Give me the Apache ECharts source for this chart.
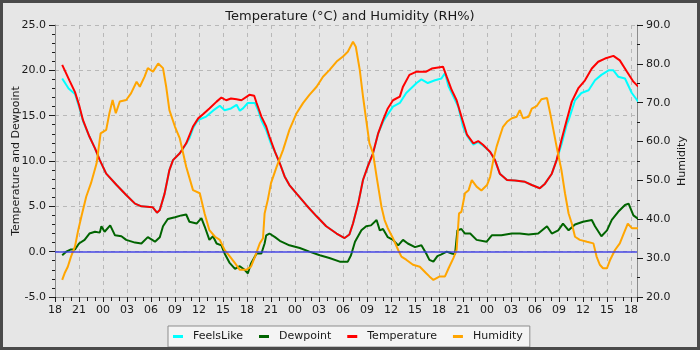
<!DOCTYPE html>
<html>
<head>
<meta charset="utf-8">
<script src="https://cdn.jsdelivr.net/npm/echarts@6/dist/echarts.min.js"></script>
<style>
  html, body { margin: 0; padding: 0; background: #e6e6e6; }
  #chart { width: 700px; height: 350px; }
</style>
</head>
<body>
<div id="chart"></div>
<script>
// Time is given in hours since 18:00 on the first day of the record.
const startHour = 18;
const hourMin = 0;
const hourMax = 72.75;

// [hours, °C]
const temperature = [
  [0.9,20.6],[1.8,18.9],[2.5,17.6],[3.0,16.2],[3.5,14.5],[4.3,12.7],[5.0,11.4],[5.6,10.1],
  [6.4,8.6],[7.7,7.35],[8.9,6.25],[10.0,5.3],[10.8,5.0],[12.2,4.9],[12.75,4.3],[13.1,4.6],
  [13.7,6.4],[14.3,9.0],[14.75,10.1],[15.6,10.85],[16.4,11.95],[17.25,13.8],[17.9,14.7],
  [18.5,15.15],[19.3,15.8],[20.2,16.55],[20.8,17.0],[21.4,16.7],[22.0,16.9],[22.7,16.8],
  [23.3,16.7],[24.3,17.3],[24.9,17.2],[25.2,16.4],[25.8,14.9],[26.4,13.8],[26.8,12.7],
  [27.5,11.0],[28.1,9.75],[28.7,8.3],[29.3,7.35],[30.2,6.4],[31.4,5.15],[32.7,3.9],
  [33.9,2.8],[35.2,2.0],[36.2,1.5],[36.8,1.9],[37.25,3.1],[37.9,5.3],[38.5,7.9],[39.1,9.4],
  [39.75,10.85],[40.4,13.05],[41.0,14.5],[41.6,15.8],[42.25,16.7],[43.1,17.1],[43.5,18.2],
  [44.3,19.5],[45.2,19.85],[46.4,19.85],[47.1,20.2],[48.5,20.4],[48.96,19.3],[49.6,17.8],
  [50.2,16.7],[50.8,14.9],[51.5,12.9],[52.3,11.95],[52.9,12.2],[53.5,11.8],[54.4,11.0],
  [55.0,10.1],[55.6,8.6],[56.5,7.9],[57.5,7.85],[58.75,7.7],[59.6,7.35],[60.6,7.0],
  [61.25,7.5],[62.1,8.6],[62.7,10.1],[63.3,12.3],[63.96,14.5],[64.6,16.55],[65.4,18.0],
  [66.25,18.9],[67.1,20.2],[67.9,20.95],[68.75,21.3],[69.8,21.6],[70.6,21.1],[71.5,19.85],
  [72.3,18.75],[72.9,18.2]
];

// [hours, °C]
const feelsLike = [
  [0.9,19.1],[1.7,18.0],[2.5,17.4],[3.0,16.0],[3.5,14.4],[4.3,12.7],[5.0,11.4],[5.6,10.1],
  [6.4,8.6],[7.7,7.35],[8.9,6.25],[10.0,5.3],[10.8,5.0],[12.2,4.9],[12.75,4.3],[13.1,4.6],
  [13.7,6.4],[14.3,9.0],[14.75,10.1],[15.6,10.85],[16.4,11.9],[16.8,12.5],[17.25,13.6],
  [17.7,14.3],[18.1,14.6],[18.9,14.9],[19.75,15.55],[20.6,16.1],[21.2,15.6],[22.0,15.8],
  [22.7,16.2],[23.1,15.55],[23.5,15.8],[24.1,16.4],[25.0,16.4],[25.4,15.6],[25.8,14.5],
  [26.4,13.4],[27.0,11.9],[27.5,11.0],[28.1,9.75],[28.7,8.3],[29.3,7.35],[30.2,6.4],
  [31.4,5.15],[32.7,3.9],[33.9,2.8],[35.2,2.0],[36.2,1.5],[36.8,1.9],[37.25,3.1],[37.9,5.3],
  [38.5,7.9],[39.1,9.4],[39.75,10.85],[40.4,13.05],[41.0,14.3],[41.4,14.9],[42.25,16.0],
  [43.1,16.4],[43.9,17.5],[45.2,18.6],[45.8,19.0],[46.6,18.6],[47.5,18.9],[48.3,19.1],
  [48.75,19.7],[49.2,18.2],[49.8,17.1],[50.4,16.0],[51.0,13.8],[51.5,12.8],[52.3,11.8],
  [52.9,12.1],[53.5,11.7],[54.4,11.0],[55.0,10.1],[55.6,8.6],[56.5,7.9],[57.5,7.85],
  [58.75,7.7],[59.6,7.35],[60.6,7.0],[61.25,7.5],[62.1,8.6],[62.7,10.1],[63.3,11.8],
  [63.96,14.0],[64.2,14.5],[65.0,16.7],[65.8,17.5],[66.7,17.8],[67.5,18.9],[68.3,19.5],
  [69.2,20.0],[69.8,20.0],[70.4,19.3],[71.25,19.1],[72.1,17.5],[72.9,16.55]
];

// [hours, °C]
const dewpoint = [
  [0.9,-0.4],[1.4,0.0],[2.0,0.25],[2.5,0.25],[3.0,0.9],[3.7,1.3],[4.3,2.0],[5.0,2.2],
  [5.6,2.1],[5.8,2.8],[6.2,2.2],[6.9,2.9],[7.5,1.8],[8.3,1.7],[8.9,1.3],[10.0,1.0],
  [10.8,0.9],[11.6,1.6],[12.5,1.1],[13.1,1.6],[13.5,2.8],[14.1,3.6],[15.0,3.8],[15.8,4.0],
  [16.4,4.1],[16.8,3.3],[17.7,3.1],[18.3,3.7],[18.7,2.8],[19.3,1.3],[19.75,1.7],[20.2,0.9],
  [20.8,0.7],[21.2,-0.2],[21.8,-1.2],[22.5,-1.9],[23.1,-1.6],[23.7,-2.0],[24.1,-2.4],
  [24.5,-1.3],[25.2,-0.2],[25.8,-0.2],[26.2,0.9],[26.4,1.8],[26.8,2.0],[27.5,1.6],
  [28.1,1.2],[29.3,0.7],[30.6,0.4],[31.8,0.0],[33.1,-0.4],[34.3,-0.7],[35.6,-1.1],
  [36.6,-1.1],[37.0,-0.4],[37.5,1.1],[38.3,2.35],[38.9,2.8],[39.5,2.9],[40.2,3.5],
  [40.6,2.35],[41.0,2.5],[41.6,1.6],[42.25,1.3],[42.9,0.7],[43.5,1.3],[44.1,0.9],[45.0,0.5],
  [45.8,0.7],[46.4,-0.2],[46.8,-0.9],[47.3,-1.1],[47.8,-0.5],[48.3,-0.3],[48.96,0.0],
  [49.6,-0.2],[50.0,-0.3],[50.3,2.35],[50.8,2.5],[51.25,2.0],[51.9,2.0],[52.7,1.3],
  [53.96,1.1],[54.6,1.8],[55.8,1.8],[57.1,2.0],[58.1,2.0],[59.2,1.9],[60.4,2.0],[61.5,2.8],
  [62.1,2.0],[62.9,2.35],[63.5,3.1],[64.2,2.35],[65.0,3.0],[66.0,3.3],[67.1,3.5],[67.5,2.8],
  [68.3,1.7],[69.0,2.35],[69.6,3.5],[70.4,4.4],[71.25,5.15],[71.7,5.3],[72.3,4.0],[72.9,3.6]
];

// [hours, RH%]
const humidity = [
  [0.9,24.4],[1.2,26.1],[1.6,27.8],[2.0,30.4],[2.5,33.0],[2.9,37.2],[3.3,40.7],[3.9,45.8],
  [4.5,49.3],[5.2,54.4],[5.7,62.1],[6.4,63.0],[6.8,67.3],[7.2,70.7],[7.6,67.3],[8.1,70.3],
  [8.9,70.7],[9.5,72.4],[10.2,75.4],[10.6,74.1],[11.2,76.7],[11.6,78.9],[12.25,78.0],
  [12.9,80.1],[13.5,78.9],[13.9,74.1],[14.3,68.1],[15.0,63.8],[15.6,60.8],[16.4,53.5],
  [17.25,47.5],[18.1,46.7],[18.7,41.5],[19.3,37.2],[20.0,35.5],[20.6,34.7],[21.2,32.1],
  [21.8,30.6],[22.5,28.7],[23.1,27.0],[23.9,27.0],[24.5,27.8],[25.0,30.4],[25.6,33.8],
  [26.0,35.1],[26.2,41.5],[26.6,45.0],[27.0,49.3],[27.7,53.5],[28.5,57.8],[29.3,63.0],
  [30.2,67.3],[31.0,69.9],[31.8,72.0],[32.7,74.1],[33.5,76.7],[34.3,78.4],[35.2,80.6],
  [36.0,81.9],[36.6,83.1],[37.25,85.7],[37.6,84.4],[38.1,78.4],[38.5,71.6],[38.9,65.6],
  [39.3,59.6],[39.75,57.0],[40.2,51.0],[40.8,43.3],[41.2,39.8],[41.6,37.7],[42.25,35.1],
  [42.9,32.1],[43.3,30.4],[43.9,29.6],[44.75,28.3],[45.6,27.8],[46.4,26.1],[46.8,25.3],
  [47.3,24.4],[48.1,25.3],[48.75,25.3],[49.2,27.4],[49.8,30.0],[50.2,32.1],[50.5,41.5],
  [50.8,41.9],[51.25,46.7],[51.7,47.5],[52.1,50.1],[52.7,48.4],[53.3,47.4],[54.0,48.8],
  [54.4,51.0],[54.8,55.3],[55.2,58.7],[55.6,61.3],[56.0,63.8],[56.5,65.1],[57.1,66.0],
  [57.7,66.4],[58.1,68.1],[58.5,66.0],[59.2,66.4],[59.6,68.5],[60.2,69.1],[60.8,70.9],
  [61.5,71.2],[61.9,67.3],[62.3,63.0],[62.7,58.7],[63.3,52.7],[63.75,46.7],[64.2,41.5],
  [64.6,38.9],[65.0,35.5],[65.6,34.7],[66.5,34.2],[67.3,33.8],[67.7,30.4],[68.1,28.3],
  [68.5,27.4],[69.0,27.4],[69.4,29.6],[70.0,32.1],[70.6,33.8],[71.1,36.4],[71.6,38.9],
  [72.1,37.7],[72.9,37.7]
];

const seriesNames = ['FeelsLike', 'Dewpoint', 'Temperature', 'Humidity'];
const seriesColors = ['#00ffff', '#006400', '#ff0000', '#ffa500'];

const FONT = 'DejaVu Sans';
const TEXT = '#1a1a1a';
const AXIS = '#8c8c8c';

function hourLabel(v) {
  if (Math.abs(v % 3) > 1e-6) return '';
  const h = (startHour + Math.round(v)) % 24;
  return (h < 10 ? '0' : '') + h;
}

const chart = echarts.init(document.getElementById('chart'), null, { renderer: 'canvas' });

const lineSeries = (name, data, color, yIndex, extra) => Object.assign({
  name, type: 'line', data, yAxisIndex: yIndex,
  showSymbol: false, symbol: 'none',
  lineStyle: { color, width: 2 }, itemStyle: { color },
  emphasis: { disabled: true }
}, extra || {});

chart.setOption({
  animation: false,
  backgroundColor: '#e6e6e6',
  textStyle: { fontFamily: FONT },
  title: {
    text: 'Temperature (°C) and Humidity (RH%)',
    left: 'center', top: 5,
    textStyle: { fontFamily: FONT, fontSize: 13, fontWeight: 'normal', color: TEXT }
  },
  grid: { left: 55, right: 63, top: 25, bottom: 53, containLabel: false, outerBoundsMode: 'none' },
  legend: {
    data: seriesNames,
    left: 168, top: 326,
    orient: 'horizontal',
    icon: 'rect', itemWidth: 10, itemHeight: 3, itemGap: 16,
    padding: [5, 7, 5, 5],
    backgroundColor: '#f4f4f4', borderColor: '#8c8c8c', borderWidth: 1, borderRadius: 0,
    textStyle: { fontFamily: FONT, fontSize: 11, color: TEXT, padding: [0, 0, 0, 5] }
  },
  xAxis: {
    type: 'value', min: hourMin, max: hourMax, interval: 3,
    axisLine: { show: true, onZero: false, lineStyle: { color: AXIS, width: 1 } },
    axisTick: { show: true, inside: false, length: 5, lineStyle: { color: TEXT } },
    minorTick: { show: true, splitNumber: 3, length: 4, lineStyle: { color: TEXT } },
    axisLabel: { formatter: hourLabel, fontFamily: FONT, fontSize: 11, color: TEXT, margin: 8,
                 showMaxLabel: false },
    splitLine: { show: true, lineStyle: { color: '#b8b8b8', type: [4, 4], width: 1 } }
  },
  yAxis: [
    {
      type: 'value', min: -5, max: 25, interval: 5, position: 'left',
      name: 'Temperature and Dewpoint', nameLocation: 'middle', nameGap: 33,
      nameMoveOverlap: false,
      nameTextStyle: { fontFamily: FONT, fontSize: 11, color: TEXT },
      axisLine: { show: true, lineStyle: { color: AXIS } },
      axisTick: { show: true, length: 6, lineStyle: { color: TEXT } },
      minorTick: { show: true, splitNumber: 5, length: 3, lineStyle: { color: TEXT } },
      axisLabel: { formatter: v => v.toFixed(1), fontFamily: FONT, fontSize: 11, color: TEXT, margin: 9 },
      splitLine: { show: true, lineStyle: { color: '#b8b8b8', type: [4, 4], width: 1 } }
    },
    {
      type: 'value', min: 20, max: 90, interval: 10, position: 'right',
      name: 'Humidity', nameLocation: 'middle', nameGap: 40,
      nameMoveOverlap: false,
      nameTextStyle: { fontFamily: FONT, fontSize: 11, color: TEXT },
      axisLine: { show: true, lineStyle: { color: AXIS } },
      axisTick: { show: true, length: 6, lineStyle: { color: TEXT } },
      minorTick: { show: true, splitNumber: 2, length: 3, lineStyle: { color: TEXT } },
      axisLabel: { formatter: v => v.toFixed(1), fontFamily: FONT, fontSize: 11, color: TEXT, margin: 9 },
      splitLine: { show: false }
    }
  ],
  series: [
    lineSeries(seriesNames[0], feelsLike, seriesColors[0], 0),
    lineSeries(seriesNames[1], dewpoint, seriesColors[1], 0, {
      markLine: {
        silent: true, symbol: 'none', label: { show: false },
        lineStyle: { color: 'rgba(60,60,230,0.7)', width: 2, type: 'solid' },
        data: [{ yAxis: 0 }]
      }
    }),
    lineSeries(seriesNames[2], temperature, seriesColors[2], 0),
    lineSeries(seriesNames[3], humidity, seriesColors[3], 1)
  ],
  graphic: [{
    type: 'rect', silent: true, z: 100,
    shape: { x: 1.5, y: 1.5, width: 697, height: 347 },
    style: { fill: 'none', stroke: '#4a4a4a', lineWidth: 3 }
  }]
});
</script>
</body>
</html>
